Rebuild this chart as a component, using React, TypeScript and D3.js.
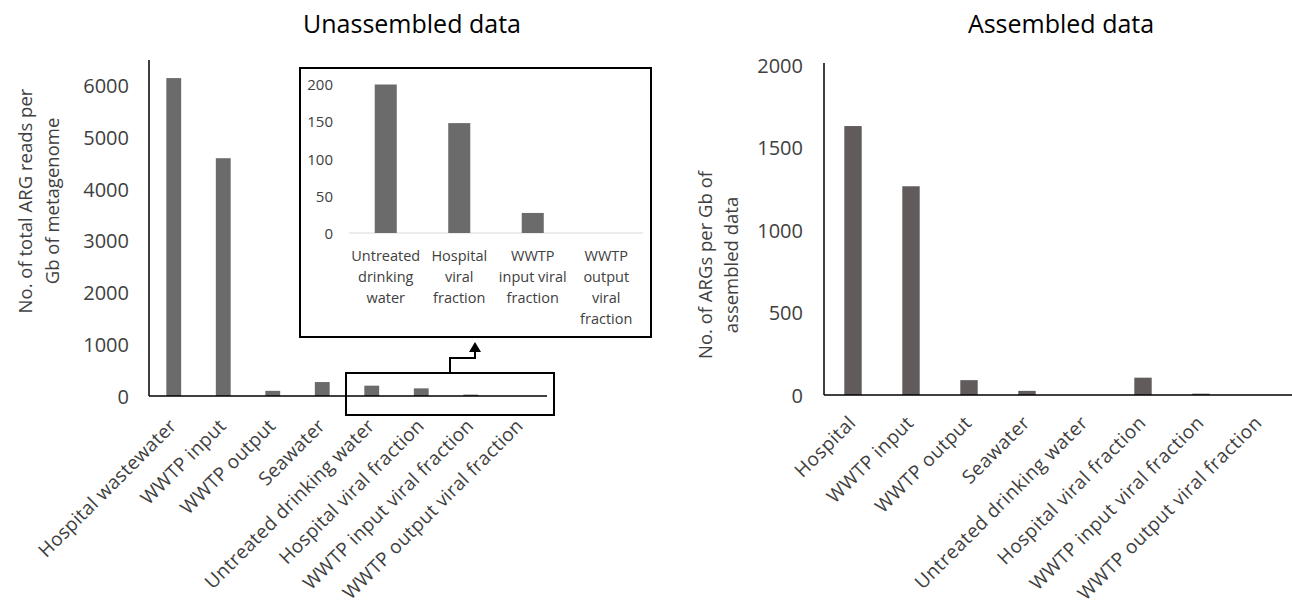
import React, { useEffect, useRef } from 'react';
import * as d3 from 'd3';

// unassembled data (main panel)
const leftCategories = [
  'Hospital wastewater',
  'WWTP input',
  'WWTP output',
  'Seawater',
  'Untreated drinking water',
  'Hospital viral fraction',
  'WWTP input viral fraction',
  'WWTP output viral fraction',
];
const leftValues = [6150, 4600, 100, 270, 200, 148, 27, 0];
const leftTicks = [0, 1000, 2000, 3000, 4000, 5000, 6000];

// zoomed inset of the small values
const insetCategories = [
  ['Untreated', 'drinking', 'water'],
  ['Hospital', 'viral', 'fraction'],
  ['WWTP', 'input viral', 'fraction'],
  ['WWTP', 'output', 'viral', 'fraction'],
];
const insetValues = [200, 148, 27, 0];
const insetTicks = [0, 50, 100, 150, 200];

// assembled data
const rightCategories = [
  'Hospital',
  'WWTP input',
  'WWTP output',
  'Seawater',
  'Untreated drinking water',
  'Hospital viral fraction',
  'WWTP input viral fraction',
  'WWTP output viral fraction',
];
const rightValues = [1630, 1265, 90, 25, 0, 105, 8, 0];
const rightTicks = [0, 500, 1000, 1500, 2000];

const FONT = '"Open Sans", Lato, sans-serif';
const LABEL = '#404040';

function App() {
  const ref = useRef<SVGSVGElement>(null);

  useEffect(() => {
    const svg = d3.select(ref.current);
    svg.selectAll('*').remove();
    svg.attr('font-family', FONT);

    // ---------- left panel ----------
    const lx = d3.scaleBand().domain(leftCategories).range([149, 545]).paddingInner(0.7).paddingOuter(0.35);
    const ly = d3.scaleLinear().domain([0, 6500]).range([396, 60]);

    const left = svg.append('g');
    left.append('text')
      .attr('x', 412).attr('y', 33)
      .attr('text-anchor', 'middle')
      .attr('font-size', 25)
      .text('Unassembled data');

    left.selectAll('rect')
      .data(leftValues)
      .enter()
      .append('rect')
      .attr('x', (d, i) => lx(leftCategories[i]))
      .attr('y', d => ly(d))
      .attr('width', lx.bandwidth())
      .attr('height', d => ly(0) - ly(d))
      .attr('fill', '#6b6b6b');

    const lAxis = left.append('g')
      .attr('transform', 'translate(129,0)')
      .call(d3.axisLeft(ly).tickValues(leftTicks).tickSize(0).tickPadding(0).tickFormat(d3.format('d')));
    lAxis.select('.domain').remove();
    lAxis.selectAll('text').attr('font-size', 20).attr('fill', LABEL).attr('font-family', FONT).attr('dy', '0.35em');

    left.append('line').attr('x1', 149).attr('x2', 149).attr('y1', 60).attr('y2', ly(0)).attr('stroke', '#000').attr('stroke-width', 1.5);
    left.append('line').attr('x1', 149).attr('x2', 547).attr('y1', ly(0)).attr('y2', ly(0)).attr('stroke', '#000').attr('stroke-width', 1.5);

    left.selectAll('text.cat')
      .data(leftCategories)
      .enter()
      .append('text')
      .attr('class', 'cat')
      .attr('text-anchor', 'end')
      .attr('font-size', 19)
      .attr('letter-spacing', 0.3)
      .attr('fill', LABEL)
      .attr('transform', d => `translate(${lx(d)! + lx.bandwidth() / 2 + 4},${427}) rotate(-45)`)
      .text(d => d);

    const lTitle = left.append('text')
      .attr('transform', 'translate(0,201) rotate(-90)')
      .attr('text-anchor', 'middle')
      .attr('font-size', 18.5)
      .attr('fill', LABEL);
    lTitle.append('tspan').attr('x', 0).attr('y', 32).text('No. of total ARG reads per');
    lTitle.append('tspan').attr('x', 0).attr('y', 59).text('Gb of metagenome');

    // highlight box and arrow
    left.append('rect').attr('x', 346).attr('y', 373).attr('width', 208).attr('height', 42)
      .attr('fill', 'none').attr('stroke', '#000').attr('stroke-width', 2);
    left.append('path').attr('d', 'M450,373 V358 H475 V351')
      .attr('fill', 'none').attr('stroke', '#000').attr('stroke-width', 2);
    left.append('path').attr('d', 'M469,352 L475,342 L481,352 Z').attr('fill', '#000');

    // ---------- inset ----------
    const inset = svg.append('g');
    inset.append('rect').attr('x', 300).attr('y', 68).attr('width', 351).attr('height', 269)
      .attr('fill', '#fff').attr('stroke', '#000').attr('stroke-width', 2);
    const ix = d3.scaleBand().domain(d3.range(insetValues.length).map(String)).range([349, 643]).paddingInner(0.7).paddingOuter(0.35);
    const iy = d3.scaleLinear().domain([0, 200]).range([233, 84.5]);

    inset.append('line').attr('x1', 349).attr('x2', 643).attr('y1', iy(0)).attr('y2', iy(0)).attr('stroke', '#d9d9d9').attr('stroke-width', 1.2);
    inset.selectAll('rect.bar')
      .data(insetValues)
      .enter()
      .append('rect')
      .attr('class', 'bar')
      .attr('x', (d, i) => ix(String(i))!)
      .attr('y', d => iy(d))
      .attr('width', ix.bandwidth())
      .attr('height', d => iy(0) - iy(d))
      .attr('fill', '#6b6b6b');

    const iAxis = inset.append('g')
      .attr('transform', 'translate(333,0)')
      .call(d3.axisLeft(iy).tickValues(insetTicks).tickSize(0).tickPadding(0));
    iAxis.select('.domain').remove();
    iAxis.selectAll('text').attr('font-size', 15).attr('fill', LABEL).attr('font-family', FONT).attr('dy', '0.35em');

    insetCategories.forEach((lines, i) => {
      const t = inset.append('text')
        .attr('text-anchor', 'middle')
        .attr('font-size', 14.5)
        .attr('fill', LABEL);
      lines.forEach((s, j) => {
        t.append('tspan')
          .attr('x', ix(String(i))! + ix.bandwidth() / 2)
          .attr('y', 261 + j * 21)
          .text(s);
      });
    });

    // ---------- right panel ----------
    const rx = d3.scaleBand().domain(rightCategories).range([824, 1288]).paddingInner(0.7).paddingOuter(0.35);
    const ry = d3.scaleLinear().domain([0, 2000]).range([395, 65]);

    const right = svg.append('g');
    right.append('text')
      .attr('x', 1061).attr('y', 33)
      .attr('text-anchor', 'middle')
      .attr('font-size', 25)
      .text('Assembled data');

    right.selectAll('rect')
      .data(rightValues)
      .enter()
      .append('rect')
      .attr('x', (d, i) => rx(rightCategories[i])!)
      .attr('y', d => ry(d))
      .attr('width', rx.bandwidth())
      .attr('height', d => ry(0) - ry(d))
      .attr('fill', '#615b5b');

    const rAxis = right.append('g')
      .attr('transform', 'translate(803,0)')
      .call(d3.axisLeft(ry).tickValues(rightTicks).tickSize(0).tickPadding(0).tickFormat(d3.format('d')));
    rAxis.select('.domain').remove();
    rAxis.selectAll('text').attr('font-size', 20).attr('fill', LABEL).attr('font-family', FONT).attr('dy', '0.35em');

    right.append('line').attr('x1', 824).attr('x2', 824).attr('y1', 63).attr('y2', ry(0)).attr('stroke', '#000').attr('stroke-width', 1.5);
    right.append('line').attr('x1', 824).attr('x2', 1292).attr('y1', ry(0)).attr('y2', ry(0)).attr('stroke', '#000').attr('stroke-width', 1.5);

    right.selectAll('text.cat')
      .data(rightCategories)
      .enter()
      .append('text')
      .attr('class', 'cat')
      .attr('text-anchor', 'end')
      .attr('font-size', 19)
      .attr('letter-spacing', 0.5)
      .attr('fill', LABEL)
      .attr('transform', d => `translate(${rx(d)! + rx.bandwidth() / 2 + 4},${424}) rotate(-45)`)
      .text(d => d);

    const rTitle = right.append('text')
      .attr('transform', 'translate(0,265) rotate(-90)')
      .attr('text-anchor', 'middle')
      .attr('font-size', 18.5)
      .attr('fill', LABEL);
    rTitle.append('tspan').attr('x', 0).attr('y', 712).text('No. of ARGs per Gb of');
    rTitle.append('tspan').attr('x', 0).attr('y', 738).text('assembled data');
  }, []);

  return (
    <svg
      ref={ref}
      width={1292}
      height={604}
      style={{ position: 'absolute', left: 0, top: 0, background: '#fff' }}
    />
  );
}

export default App;
